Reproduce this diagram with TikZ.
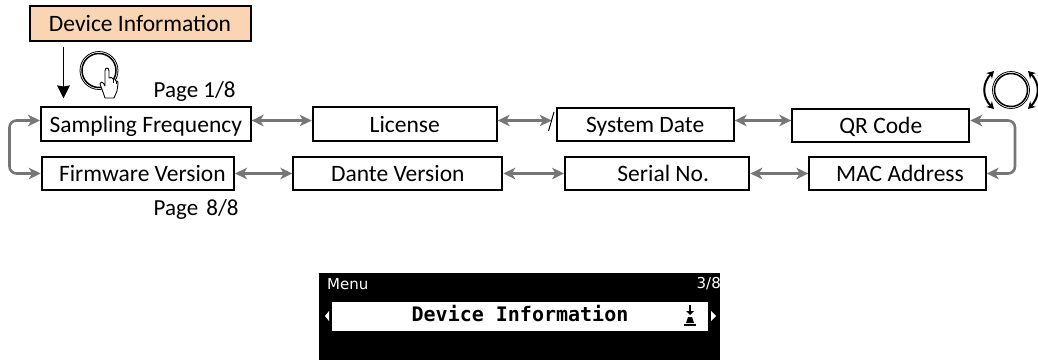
\documentclass[tikz,border=0pt]{standalone}
\usepackage{fontspec}
\setmainfont{Carlito}
\newfontfamily\scrmono{DejaVu Sans Mono}
\newfontfamily\scrsans{DejaVu Sans}
\usetikzlibrary{arrows.meta}
\definecolor{peach}{RGB}{250,213,180}
\definecolor{linkgrey}{RGB}{118,118,118}
\tikzset{
  x=1pt,y=-1pt,
  menubox/.style={draw=black,line width=2pt,fill=white,inner sep=0pt,minimum height=33.5pt,text height=18.6pt,text depth=3pt,font=\fontsize{23.5}{26}\selectfont,text=black},
  link/.style={draw=linkgrey,line width=2.6pt,{Stealth[length=12pt,width=11.5pt,inset=3.5pt]}-{Stealth[length=12pt,width=11.5pt,inset=3.5pt]}},
  pagetext/.style={inner sep=0pt,anchor=base west,font=\fontsize{23}{26}\selectfont},
  screentext/.style={inner sep=0pt},
  knobring/.style={draw=black,line width=0.7pt},
}
\begin{document}
\begin{tikzpicture}
\useasboundingbox (0,0) rectangle (1038,360);
\node[menubox,fill=peach,minimum width=221pt,minimum height=34.5pt] (devinfo) at (140,23.3) {Device Information};
\node[menubox,minimum width=209.7pt] (samp) at (145.8,124.2) {Sampling Frequency};
\node[menubox,minimum width=192.3pt] (firm) at (137.9,173.7) {\hspace*{9pt}Firmware Version};
\node[menubox,minimum width=184pt] (lic) at (404.7,124.2) {License};
\node[menubox,minimum width=177pt] (sysd) at (645.2,124.3) {System Date};
\node[menubox,minimum width=177pt] (qr) at (880.8,125.3) {QR Code};
\node[menubox,minimum width=209pt] (dante) at (397.8,173.7) {Dante Version};
\node[menubox,minimum width=184.3pt] (serial) at (657.2,173.7) {\hspace*{12pt}Serial No.};
\node[menubox,minimum width=176.4pt] (mac) at (897.5,173.7) {\hspace*{5pt}MAC Address};
\coordinate (rowa) at (0,120.5);
\coordinate (rowb) at (0,173.5);
\coordinate (loopl) at (9.5,0);
\coordinate (loopr) at (1015,0);
\draw[link] (samp.east |- rowa) -- (lic.west |- rowa);
\draw[link,shorten >=4pt] (lic.east |- rowa) -- (sysd.west |- rowa);
\draw[link] (sysd.east |- rowa) -- (qr.west |- rowa);
\draw[link] (firm.east |- rowb) -- (dante.west |- rowb);
\draw[link] (dante.east |- rowb) -- (serial.west |- rowb);
\draw[link] (serial.east |- rowb) -- (mac.west |- rowb);
\draw[link,rounded corners=7pt] (samp.west |- rowa) -- (loopl |- rowa) -- (loopl |- rowb) -- (firm.west |- rowb);
\draw[link,rounded corners=7pt] (qr.east |- rowa) -- (loopr |- rowa) -- (loopr |- rowb) -- (mac.east |- rowb);
\draw[black,line width=1pt] (554,112) -- (548.5,131);
\node[pagetext] (p1) at (153.5,97.7) {Page 1/8};
\node[pagetext] (p8) at (153.5,215) {Page\hspace{3pt} 8/8};
\coordinate (armstart) at (63.5,47);
\coordinate (armend) at (63.5,98.5);
\draw[black,line width=1.8pt,-{Stealth[length=13pt,width=12.5pt,inset=1pt]}] (armstart) -- (armend);
% push knob
\draw[knobring,line width=0.8pt] (99,70.5) circle (19);
\draw[knobring,line width=1.5pt] (99,70.5) circle (17);
\draw[black,line width=0.9pt,fill=white,line join=round]
  (105,98) -- (103,92) -- (100,84) .. controls (100,82) and (102,81) .. (104,84) -- (105,86)
  -- (105,71) .. controls (105,67) and (109,67) .. (109,71) -- (109,78)
  .. controls (111,77) and (112,77) .. (113,79) .. controls (114,78) and (116,79) .. (116,81)
  .. controls (118,80) and (118,82) .. (118,84) -- (117,91) -- (114,98) -- cycle;
\draw[black,line width=0.5pt] (113,79) -- (113,83) (116,81) -- (116,84);
% rotary knob
\draw[knobring,line width=0.8pt] (1011,90) circle (18.5);
\draw[knobring,line width=1.5pt] (1011,90) circle (16.5);
\draw[black,line width=2pt,{Stealth[length=7pt,width=8pt]}-{Stealth[length=7pt,width=8pt]}] (994,71) .. controls (982,83) and (982,97) .. (994,109);
\draw[black,line width=2pt,{Stealth[length=7pt,width=8pt]}-{Stealth[length=7pt,width=8pt]}] (1028,71) .. controls (1040,83) and (1040,97) .. (1028,109);
% screen
\fill[black] (319,273) rectangle (720,360);
\fill[white] (332,302) rectangle (708,331);
\node[screentext,text=white,font=\scrsans\fontsize{15}{16}\selectfont,anchor=west] (scrmenu) at (327,284) {Menu};
\node[screentext,text=white,font=\scrsans\fontsize{15}{16}\selectfont,anchor=east] (scrpage) at (721,284) {3/8};
\node[screentext,text=black,font=\scrmono\bfseries\fontsize{20}{24}\selectfont] (scrtitle) at (520,314) {Device Information};
\fill[white] (329,311) -- (325,316) -- (329,321) -- cycle;
\fill[white] (711,311) -- (716,316) -- (711,321) -- cycle;
\fill[black] (686,311) -- (694,311) -- (690,315) -- cycle;
\draw[black,line width=1.2pt] (690,305) -- (690,312);
\fill[black] (688,317) -- (692,317) -- (694,323) -- (686,323) -- cycle;
\fill[black] (684,324) rectangle (696,326);
\end{tikzpicture}
\end{document}
